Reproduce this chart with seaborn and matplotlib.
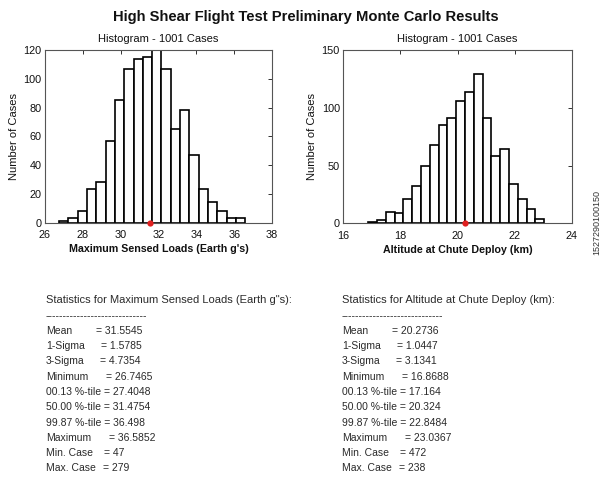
import numpy as np
import pandas as pd
import matplotlib
matplotlib.use("Agg")
import matplotlib.pyplot as plt
import seaborn as sns

# ---------------- data ----------------
load_counts = [1, 3, 8, 23, 28, 57, 85, 107, 114, 115, 125, 107, 65, 78, 47, 23, 14, 8, 3, 3]
alt_counts = [1, 3, 10, 9, 21, 32, 50, 68, 85, 91, 106, 114, 129, 91, 58, 64, 34, 21, 12, 4]
load_min, load_max, load_mean = 26.7465, 36.5852, 31.5545
alt_min, alt_max, alt_mean = 16.8688, 23.0367, 20.2736

load_xticks = [26, 28, 30, 32, 34, 36, 38]
load_yticks = [0, 20, 40, 60, 80, 100, 120]
alt_xticks = [16, 18, 20, 22, 24]
alt_yticks = [0, 50, 100, 150]

stat_labels = ["Mean", "1-Sigma", "3-Sigma", "Minimum", "00.13 %-tile", "50.00 %-tile",
               "99.87 %-tile", "Maximum", "Min. Case", "Max. Case"]
load_stats = ["31.5545", "1.5785", "4.7354", "26.7465", "27.4048", "31.4754",
              "36.498", "36.5852", "47", "279"]
alt_stats = ["20.2736", "1.0447", "3.1341", "16.8688", "17.164", "20.324",
             "22.8484", "23.0367", "472", "238"]

title = "High Shear Flight Test Preliminary Monte Carlo Results"
subtitle = "Histogram - 1001 Cases"
load_xlabel = "Maximum Sensed Loads (Earth g's)"
alt_xlabel = "Altitude at Chute Deploy (km)"
ylabel = "Number of Cases"
load_head = "Statistics for Maximum Sensed Loads (Earth g\"s):"
alt_head = "Statistics for Altitude at Chute Deploy (km):"
side_code = "1527290100150"

# ---------------- layout ----------------
W, H = 602, 479
sns.set_theme(style="white")
plt.rcParams["font.family"] = ["Liberation Sans", "DejaVu Sans"]

fig = plt.figure(figsize=(W / 100, H / 100), dpi=100)
fig.patch.set_facecolor("white")


def px_axes(x0, y0, x1, y1):
    return fig.add_axes([x0 / W, 1 - y1 / H, (x1 - x0) / W, (y1 - y0) / H])


def draw_hist(ax, counts, vmin, vmax, vmean, xticks, yticks, xlabel):
    edges = np.linspace(vmin, vmax, len(counts) + 1)
    centers = (edges[:-1] + edges[1:]) / 2
    df = pd.DataFrame({"value": centers, "count": counts})
    sns.histplot(data=df, x="value", weights="count", bins=edges.tolist(), ax=ax,
                 color="white", edgecolor="black", linewidth=1.2, alpha=1)
    ax.plot([vmean], [0], "o", color="#e02020", ms=4.5, clip_on=False, zorder=5,
            markeredgewidth=0)
    ax.set_xlim(xticks[0], xticks[-1])
    ax.set_ylim(yticks[0], yticks[-1])
    ax.set_xticks(xticks)
    ax.set_yticks(yticks)
    ax.tick_params(direction="in", top=True, right=True, length=3, width=0.6,
                   labelsize=7.8, colors="#111111")
    ax.tick_params(axis="x", pad=5.5)
    ax.tick_params(axis="y", pad=2.5)
    for s in ax.spines.values():
        s.set_color("#555555")
        s.set_linewidth(0.8)
    ax.set_facecolor("white")
    ax.set_xlabel(xlabel, fontsize=7.7, fontweight="bold", labelpad=3, color="#111111")
    ax.set_ylabel(ylabel, fontsize=8, labelpad=3, color="#111111")
    ax.set_title(subtitle, fontsize=8, pad=6, color="#111111")


ax1 = px_axes(45, 50, 272, 222.5)
draw_hist(ax1, load_counts, load_min, load_max, load_mean, load_xticks, load_yticks, load_xlabel)
ax2 = px_axes(343.3, 50, 571.7, 223.3)
draw_hist(ax2, alt_counts, alt_min, alt_max, alt_mean, alt_xticks, alt_yticks, alt_xlabel)

fig.text(306 / W, 1 - 17 / H, title, ha="center", va="center", fontsize=10.6,
         fontweight="bold", color="#111111")

# statistics blocks
value_offsets = [50, 55, 54, 60, None, None, None, 63, 58, 57]
row_y0, row_dy = 330.7, 15.3


def stats_block(x0, head, values):
    kw = dict(fontsize=7.5, color="#2a2a2a", va="center", ha="left")
    fig.text(x0 / W, 1 - 300 / H, head, **{**kw, "fontsize": 8})
    fig.text(x0 / W, 1 - 315.7 / H, "-" * 29, **kw)
    for i, (lab, val) in enumerate(zip(stat_labels, values)):
        y = 1 - (row_y0 + i * row_dy) / H
        off = value_offsets[i]
        if off is None:
            fig.text(x0 / W, y, f"{lab} = {val}", **kw)
        else:
            fig.text(x0 / W, y, lab, **kw)
            fig.text((x0 + off) / W, y, f"= {val}", **kw)


stats_block(46, load_head, load_stats)
stats_block(342, alt_head, alt_stats)

fig.text(597 / W, 1 - 222 / H, side_code, rotation=90, fontsize=6.5,
         ha="center", va="center", color="#333333")

fig.savefig("out.png", dpi=100, facecolor="white")
